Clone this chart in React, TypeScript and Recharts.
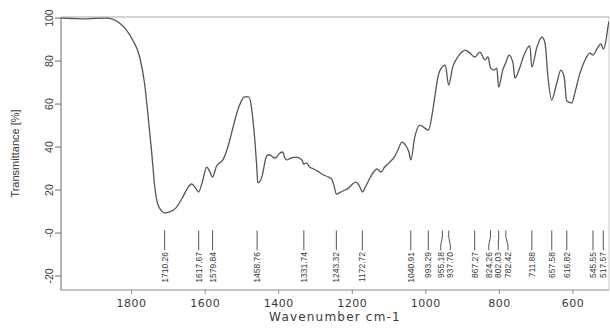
import React from 'react';
import { ComposedChart, Line, Scatter, XAxis, YAxis, ReferenceLine } from 'recharts';

// IR spectrum, wavenumber (cm-1) descending
const WAVENUMBERS = [
  1992, 1960, 1930, 1900, 1868, 1852, 1833, 1814, 1797, 1778, 1765, 1756, 1746, 1737, 1729, 1718,
  1710, 1697, 1680, 1661, 1648, 1637, 1626, 1618, 1607, 1596, 1588, 1580, 1569, 1561, 1552, 1541,
  1533, 1522, 1514, 1503, 1493, 1482, 1476, 1471, 1465, 1460, 1457, 1449, 1444, 1435, 1430, 1424,
  1416, 1408, 1400, 1389, 1384, 1378, 1367, 1351, 1337, 1332, 1324, 1316, 1305, 1294, 1278, 1264,
  1256, 1250, 1243, 1231, 1220, 1210, 1199, 1190, 1182, 1172, 1163, 1152, 1142, 1133, 1122, 1112,
  1098, 1084, 1076, 1065, 1054, 1046, 1041, 1030, 1016, 1003, 993, 981, 973, 967, 956, 947,
  938, 927, 913, 902, 894, 880, 867, 853, 839, 831, 824, 815, 807, 802, 791, 782,
  774, 763, 758, 744, 736, 722, 717, 712, 698, 684, 676, 668, 658, 644, 633, 624,
  617, 603, 595, 581, 567, 554, 546, 532, 524, 517, 510, 505, 502,
];

const TRANSMITTANCE = [
  100, 99.8, 99.6, 99.9, 100, 99.5, 97.7, 94.4, 89.8, 81.9, 69.8, 55.8, 38.6, 21.4, 13.5, 10.2,
  9.3, 9.8, 11.6, 16.7, 20.9, 22.8, 20.9, 19.1, 24.2, 30.7, 28.8, 26.0, 31.2, 32.6, 34.0, 38.6,
  43.3, 50.7, 55.8, 60.9, 63.3, 63.3, 60.5, 54.0, 43.3, 31.6, 23.3, 24.7, 27.4, 34.9, 36.3, 36.3,
  35.3, 34.9, 36.7, 37.7, 35.3, 34.0, 34.9, 35.3, 34.0, 32.1, 32.6, 30.7, 29.8, 28.8, 27.0, 26.0,
  25.1, 22.3, 18.1, 19.1, 20.0, 20.9, 22.8, 23.7, 22.3, 19.1, 21.9, 25.6, 28.4, 29.8, 28.4, 30.7,
  33.0, 35.8, 38.6, 42.3, 40.5, 37.7, 34.0, 44.7, 50.2, 48.8, 47.9, 57.2, 66.5, 72.6, 77.2, 78.1,
  68.8, 77.2, 81.9, 84.2, 85.1, 83.7, 81.9, 84.2, 80.5, 81.9, 76.7, 75.8, 76.7, 67.9, 75.8, 79.5,
  82.8, 79.1, 72.1, 77.2, 81.4, 86.5, 87.0, 77.2, 86.5, 91.2, 88.4, 72.6, 61.9, 69.8, 75.8, 72.6,
  61.4, 60.5, 65.1, 74.4, 80.5, 83.7, 82.8, 86.5, 88.0, 85.6, 89.8, 95.8, 98.5,
];

const PEAKS = [
  1710.26, 1617.67, 1579.84, 1458.76, 1331.74, 1243.32, 1172.72, 1040.91, 993.29, 955.18,
  937.7, 867.27, 824.26, 802.03, 782.42, 711.88, 657.58, 616.82, 545.55, 517.57,
];

const X_TICKS = [1800, 1600, 1400, 1200, 1000, 800, 600];
const Y_TICKS = [100, 80, 60, 40, 20, 0, -20];

const X_MIN = 502;
const X_MAX = 1992;
const Y_MIN = -26.5;
const Y_MAX = 100.5;

// peak marker geometry, in transmittance units
const MARK_TOP = 1.2;
const KINK_TOP = -2;
const KINK_BOTTOM = -5.5;
const MARK_BOTTOM = -8;
const LABEL_TOP = -8.8;
const LABEL_GAP = 26; // cm-1 between neighbouring labels

const spectrum = WAVENUMBERS.map((w, i) => ({ w, t: TRANSMITTANCE[i] }));

// push crowded labels apart so the rotated numbers do not overlap
function spreadLabels(peaks: number[], gap: number): number[] {
  const pos = [...peaks];
  for (let iter = 0; iter < 300; iter++) {
    let moved = false;
    for (let i = 0; i < pos.length - 1; i++) {
      const d = pos[i] - pos[i + 1];
      if (d < gap - 0.01) {
        const push = (gap - d) / 2;
        pos[i] += push;
        pos[i + 1] -= push;
        moved = true;
      }
    }
    if (!moved) break;
  }
  return pos;
}

const labelPos = spreadLabels(PEAKS, LABEL_GAP);
const peakLabels = PEAKS.map((p, i) => ({ w: labelPos[i], t: LABEL_TOP, label: p.toFixed(2) }));

const INK = '#3a3a3a';

const YTick = ({ x, y, payload }: any) => {
  const cx = x - 3.5;
  return (
    <text
      x={cx}
      y={y}
      dy="0.35em"
      transform={`rotate(-90, ${cx}, ${y})`}
      textAnchor="middle"
      fontFamily="'Liberation Sans', Arial, sans-serif"
      fontSize={10.5}
      fill={INK}
    >
      {payload.value === 0 ? '-0' : payload.value}
    </text>
  );
};

const PeakLabel = (props: any) => {
  const { cx, cy, payload } = props;
  return (
    <text
      x={cx}
      y={cy}
      dy="0.35em"
      transform={`rotate(-90, ${cx}, ${cy})`}
      textAnchor="end"
      fontFamily="'Liberation Sans', Arial, sans-serif"
      fontSize={8.5}
      fill={INK}
    >
      {payload.label}
    </text>
  );
};

export default function App() {
  return (
    <div style={{ position: 'absolute', left: 0, top: 0, width: 610, height: 331, background: '#fff' }}>
      <ComposedChart width={610} height={331} data={spectrum} margin={{ top: 17, right: 1, bottom: 0, left: 0 }}>
        <XAxis
          dataKey="w"
          type="number"
          domain={[X_MIN, X_MAX]}
          reversed
          allowDataOverflow
          ticks={X_TICKS}
          height={41}
          tickSize={4}
          tickMargin={5}
          stroke="#8a8a8a"
          tick={{ fill: INK, fontSize: 11, fontFamily: "'DejaVu Sans', sans-serif", letterSpacing: 0.5 }}
          label={{
            content: ({ viewBox }: any) => (
              <text
                x={viewBox.x + viewBox.width / 2}
                y={viewBox.y + 31}
                textAnchor="middle"
                fontFamily="'DejaVu Sans', sans-serif"
                fontSize={12}
                letterSpacing={1.2}
                fill={INK}
              >
                Wavenumber cm-1
              </text>
            ),
          }}
        />
        <YAxis
          type="number"
          domain={[Y_MIN, Y_MAX]}
          allowDataOverflow
          ticks={Y_TICKS}
          width={61}
          tickSize={6}
          tickMargin={2}
          stroke="#6a6a6a"
          tick={<YTick />}
          label={{
            content: ({ viewBox }: any) => {
              const cx = viewBox.x + 15;
              const cy = viewBox.y + viewBox.height / 2;
              return (
                <text
                  x={cx}
                  y={cy}
                  dy="0.35em"
                  transform={`rotate(-90, ${cx}, ${cy})`}
                  textAnchor="middle"
                  fontFamily="'Liberation Sans', Arial, sans-serif"
                  fontSize={11}
                  fill={INK}
                >
                  Transmittance [%]
                </text>
              );
            },
          }}
        />
        {/* frame top and right */}
        <ReferenceLine y={Y_MAX} stroke="#a8a8a8" strokeWidth={1} ifOverflow="visible" />
        <ReferenceLine x={X_MIN} stroke="#c8c8c8" strokeWidth={1} ifOverflow="visible" />

        {/* peak markers */}
        {PEAKS.map((p, i) => {
          const l = labelPos[i];
          const straight = Math.abs(p - l) < 0.5;
          if (straight) {
            return (
              <ReferenceLine
                key={`pk-${i}`}
                segment={[{ x: p, y: MARK_TOP }, { x: p, y: MARK_BOTTOM }]}
                stroke="#555"
                strokeWidth={1}
              />
            );
          }
          return (
            <React.Fragment key={`pk-${i}`}>
              <ReferenceLine segment={[{ x: p, y: MARK_TOP }, { x: p, y: KINK_TOP }]} stroke="#555" strokeWidth={1} />
              <ReferenceLine segment={[{ x: p, y: KINK_TOP }, { x: l, y: KINK_BOTTOM }]} stroke="#555" strokeWidth={1} />
              <ReferenceLine segment={[{ x: l, y: KINK_BOTTOM }, { x: l, y: MARK_BOTTOM }]} stroke="#555" strokeWidth={1} />
            </React.Fragment>
          );
        })}

        <Line
          dataKey="t"
          type="monotone"
          stroke="#555"
          strokeWidth={1.3}
          dot={false}
          activeDot={false}
          isAnimationActive={false}
        />
        <Scatter data={peakLabels} dataKey="t" shape={<PeakLabel />} isAnimationActive={false} />
      </ComposedChart>
    </div>
  );
}
